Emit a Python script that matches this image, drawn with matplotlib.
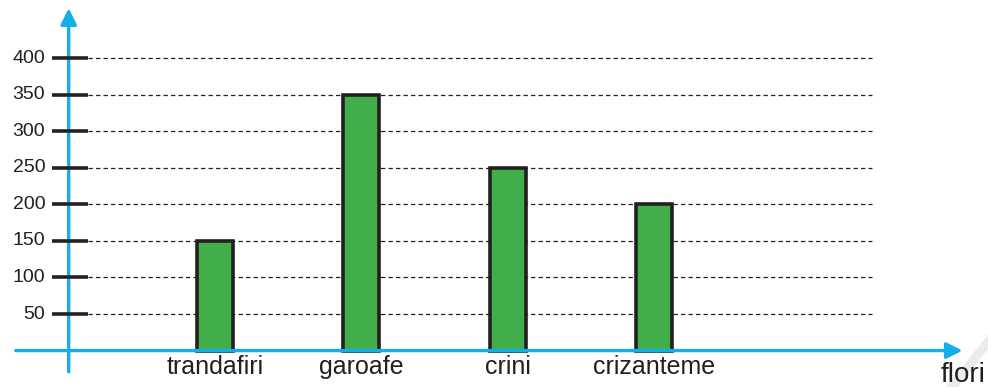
import matplotlib.pyplot as plt
from matplotlib.patches import Polygon

plt.rcParams['font.family'] = ['Liberation Sans', 'DejaVu Sans']

# Flowers and counts
flori = ['trandafiri', 'garoafe', 'crini', 'crizanteme']
valori = [150, 350, 250, 200]
y_ticks = [50, 100, 150, 200, 250, 300, 350, 400]

blue = '#14aee8'
green = '#41ae4a'

fig = plt.figure(figsize=(9.88, 3.87), dpi=100)

# faint fold stripe in the lower right corner
W, H = 988.0, 387.0
stripe = Polygon([(946 / W, 0), (958 / W, 0), (1, 38 / H), (1, 52 / H)],
                 closed=True, transform=fig.transFigure, facecolor='#ebebeb',
                 edgecolor='none', zorder=-1)
fig.patches.append(stripe)

ax = fig.add_axes([0, 0, 1, 1])
ax.set_xlim(-0.4696, 6.2837)
ax.set_ylim(-49.8, 479.3)
ax.axis('off')
ax.patch.set_alpha(0)

pos = [i + 1 for i in range(len(flori))]

# Dashed grid lines and black tick marks
for v in y_ticks:
    ax.plot([0.132, 5.49], [v, v], color='#222222', lw=0.9, ls=(0, (3.5, 2.5)), zorder=1)
    ax.plot([-0.116, 0.132], [v, v], color='#222222', lw=2.6, solid_capstyle='butt', zorder=5)
    ax.text(-0.16, v, str(v), ha='right', va='center', fontsize=14, color='#231f20')

# Bars
ax.bar(pos, valori, width=0.246, color=green, edgecolor='#231f20', linewidth=2.6, zorder=2)

# Axes with arrows
ax.annotate('', xy=(6.11, 0), xytext=(-0.362, 0),
            arrowprops=dict(arrowstyle='-|>', color=blue, lw=2.4, mutation_scale=24, shrinkA=0, shrinkB=0),
            zorder=4)
ax.annotate('', xy=(0.0, 468), xytext=(0.0, -29),
            arrowprops=dict(arrowstyle='-|>', color=blue, lw=2.4, mutation_scale=24, shrinkA=0, shrinkB=0),
            zorder=4)

# Category labels
for p, name in zip(pos, flori):
    ax.text(p, -22, name, ha='center', va='center', fontsize=18, color='#231f20')

ax.text(6.11, -34, 'flori', ha='center', va='center', fontsize=20, color='#231f20')

fig.savefig('out.png', dpi=100)
